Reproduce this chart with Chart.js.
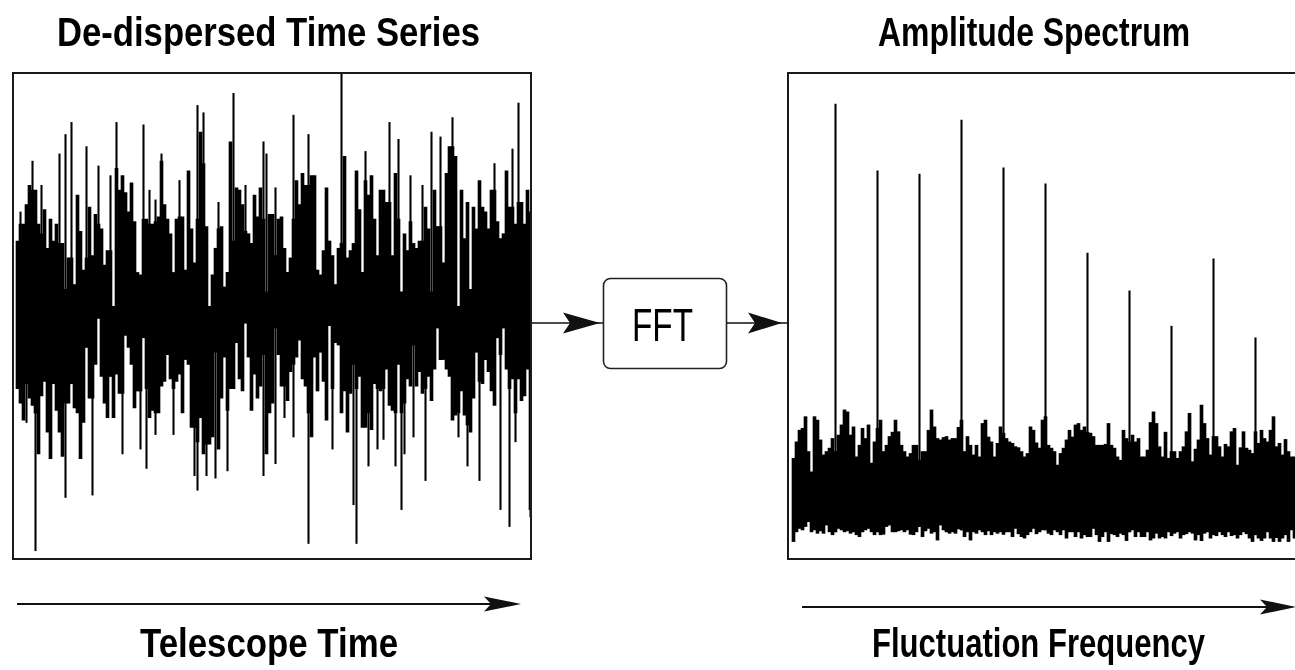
<!DOCTYPE html>
<html>
<head>
<meta charset="utf-8">
<title>De-dispersed Time Series / Amplitude Spectrum</title>
<script src="https://cdn.jsdelivr.net/npm/chart.js@4.4.1/dist/chart.umd.min.js"></script>
<style>
    html, body {
        margin: 0;
        padding: 0;
        width: 1295px;
        height: 670px;
        overflow: hidden;
        background: #ffffff;
    }
    canvas {
        position: absolute;
    }
    #decor {
        position: absolute;
        left: 0;
        top: 0;
    }
    .lbl {
        position: absolute;
        white-space: nowrap;
        color: #000000;
        font-family: "Liberation Sans Narrow", "Arial Narrow", "Liberation Sans", Arial, sans-serif;
        transform-origin: 0 0;
    }
    .title, .axis {
        font-size: 40px;
        line-height: 40px;
        font-weight: bold;
    }
    .fft {
        font-size: 47px;
        line-height: 47px;
        font-weight: normal;
    }
</style>
</head>
<body>

<canvas id="timeChart" width="545" height="510" style="left:0px; top:60px;"></canvas>
<canvas id="specChart" width="540" height="510" style="left:775px; top:60px;"></canvas>

<svg id="decor" width="1295" height="670">
    <!-- time series -> FFT -> spectrum -->
    <line x1="532" y1="323" x2="604" y2="323" stroke="#111" stroke-width="1.6"/>
    <path d="M600 323 L563 312.5 L570 323 L563 333.5 Z" fill="#111"/>
    <rect x="603.5" y="278.5" width="123" height="90" rx="7" ry="7" fill="#fff" stroke="#222" stroke-width="1.6"/>
    <line x1="727" y1="323" x2="787" y2="323" stroke="#111" stroke-width="1.6"/>
    <path d="M782 323 L748 312.5 L755 323 L748 333.5 Z" fill="#111"/>
    <!-- axis arrows -->
    <line x1="17" y1="604" x2="500" y2="604" stroke="#111" stroke-width="2"/>
    <path d="M521 604 L484 596.5 L491 604 L484 611.5 Z" fill="#111"/>
    <line x1="802" y1="607" x2="1275" y2="607" stroke="#111" stroke-width="2"/>
    <path d="M1296 607 L1260 599.5 L1267 607 L1260 614.5 Z" fill="#111"/>
</svg>

<div class="lbl title" data-w="423" style="left:57px; top:12px;">De-dispersed Time Series</div>
<div class="lbl title" data-w="312" style="left:878px; top:12px;">Amplitude Spectrum</div>
<div class="lbl fft" data-w="61" style="left:632px; top:301px;">FFT</div>
<div class="lbl axis" data-w="258" style="left:140px; top:623px;">Telescope Time</div>
<div class="lbl axis" data-w="333" style="left:872px; top:623px;">Fluctuation Frequency</div>

<script>
// ==========================================
// DATA
// ==========================================

// De-dispersed time series: envelope of each time bin (arbitrary units)
const timeHigh = [
    31, 38, 38, 46, 54, 52, 52, 38, 34, 44, 28, 40, 31, 38, 30, 30, 11, 24, 24, 13,
    50, 35, 19, 24, 45, 25, 42, 38, 36, 21, 27, 27, 4, 61, 52, 58, 51, 43, 55, 39,
    18, 17, 40, 40, 38, 38, 39, 41, 64, 46, 40, 34, 18, 40, 41, 41, 19, 60, 36, 22,
    40, 76, 63, 37, 4, 17, 28, 36, 37, 12, 18, 72, 31, 53, 52, 46, 35, 34, 30, 50,
    41, 53, 40, 10, 42, 42, 25, 40, 41, 28, 18, 24, 40, 56, 46, 59, 54, 54, 58, 58,
    19, 17, 27, 53, 31, 25, 13, 28, 30, 66, 24, 27, 30, 60, 44, 18, 56, 50, 58, 40,
    25, 52, 52, 47, 47, 25, 59, 40, 10, 34, 27, 39, 30, 28, 31, 31, 45, 36, 10, 52,
    37, 37, 22, 59, 70, 70, 66, 4, 52, 32, 47, 11, 45, 36, 56, 45, 43, 36, 52, 52,
    39, 32, 34, 60, 45, 45, 38, 47, 47, 38, 52, 43
];
const timeLow = [
    -30, -36, -43, -28, -34, -37, -40, -57, -33, -27, -48, -59, -28, -39, -48, -58, -36, -36, -28, -38,
    -40, -59, -44, -13, -34, -34, -20, -1, -25, -36, -42, -25, -42, -24, -32, -32, -8, -13, -20, -38,
    -31, -31, -9, -30, -42, -39, -40, -40, -29, -27, -16, -26, -30, -27, -24, -40, -18, -20, -46, -46,
    -52, -42, -57, -53, -53, -50, -15, -55, -34, -17, -39, -30, -30, -11, -26, -31, -3, -17, -39, -24,
    -34, -29, -16, -57, -40, -36, -5, -16, -29, -29, -35, -23, -20, -17, -10, -26, -29, -40, -50, -17,
    -31, -15, -27, -43, -4, -30, -11, -12, -40, -31, -48, -32, -20, -30, -25, -46, -46, -40, -47, -28,
    -30, -31, -30, -22, -37, -39, -40, -20, -40, -36, -26, -29, -12, -29, -23, -32, -30, -25, -35, -22,
    -5, -18, -18, -22, -25, -43, -41, -40, -31, -41, -45, -48, -34, -15, -27, -28, -18, -23, -31, -37,
    -9, -16, -5, -22, -30, -26, -40, -26, -35, -33, -22, -80
];

// Single-sample spikes sticking out of the envelope
const upSpikeBins = [1, 5, 8, 14, 16, 18, 23, 27, 31, 33, 42, 44, 46, 48, 54, 60, 62, 67, 72, 76,
    82, 83, 86, 92, 97, 108, 116, 124, 127, 131, 135, 138, 141, 145, 159, 165, 167];
const upSpikeValues = [43, 64, 54, 67, 75, 80, 70, 62, 58, 80, 79, 52, 48, 67, 56, 87, 84, 47, 92, 54,
    72, 67, 53, 83, 75, 100, 68, 80, 73, 58, 54, 76, 74, 82, 63, 69, 88];
const downSpikeBins = [3, 6, 16, 25, 35, 41, 43, 46, 52, 59, 60, 63, 66, 70, 82, 86, 89, 92, 97, 105,
    112, 113, 117, 120, 122, 126, 128, 129, 132, 136, 147, 150, 154, 161, 164, 166, 171];
const downSpikeValues = [-44, -97, -75, -74, -57, -55, -63, -49, -49, -66, -72, -66, -67, -64, -66, -61, -42, -50, -94, -55,
    -78, -94, -62, -55, -51, -62, -80, -57, -50, -68, -50, -62, -68, -80, -87, -52, -83];

// Amplitude spectrum: noise floor envelope of each frequency bin
const specHigh = [
    20.6, 24.0, 26.4, 26.8, 29.2, 22.0, 17.8, 29.2, 28.5, 24.4, 21.3, 22.0, 22.7, 24.7, 22.0, 25.4, 27.5, 30.6, 30.2, 25.4,
    27.1, 20.9, 23.3, 26.8, 24.7, 27.5, 19.6, 24.0, 26.8, 28.5, 22.0, 23.3, 25.1, 26.0, 28.5, 26.1, 23.3, 22.0, 20.9, 21.6,
    23.3, 23.3, 20.2, 22.0, 22.0, 26.4, 30.6, 27.1, 24.7, 24.4, 24.9, 25.1, 24.4, 24.7, 24.7, 27.0, 28.5, 22.0, 25.1, 23.3,
    21.3, 23.3, 20.9, 27.8, 28.5, 25.0, 24.0, 20.9, 23.7, 27.1, 25.8, 24.7, 24.0, 23.7, 23.0, 22.8, 22.0, 20.9, 21.6, 27.1,
    26.4, 23.8, 22.7, 28.5, 29.2, 23.3, 22.7, 22.0, 19.2, 21.6, 22.7, 24.4, 26.4, 25.0, 27.5, 27.8, 26.4, 27.1, 26.0, 25.8,
    25.1, 23.3, 23.3, 23.3, 23.5, 27.8, 23.3, 22.7, 20.9, 20.2, 26.4, 24.7, 24.0, 25.4, 24.0, 24.7, 20.9, 20.9, 22.3, 28.0,
    30.2, 27.8, 23.0, 20.9, 26.0, 20.6, 22.0, 22.0, 20.6, 22.0, 23.0, 26.1, 29.9, 19.9, 22.5, 24.4, 31.6, 27.8, 24.7, 21.3,
    25.1, 25.1, 23.0, 20.9, 23.5, 23.0, 26.1, 26.8, 19.2, 22.8, 26.1, 22.7, 22.3, 21.6, 26.1, 23.7, 26.4, 24.7, 24.0, 26.4,
    29.2, 23.0, 23.7, 21.3, 24.5, 22.0, 20.9, 20.9, 21.6, 23.3, 22.0, 21.0, 22.0
];
const specLow = [
    3.4, 5.4, 6.1, 5.8, 6.5, 7.5, 5.4, 5.8, 5.1, 5.6, 5.1, 6.8, 5.4, 4.8, 5.4, 6.1, 5.8, 5.4, 5.6, 5.1,
    5.4, 4.8, 4.4, 5.4, 5.8, 6.1, 5.4, 4.8, 5.4, 4.8, 4.9, 6.5, 6.8, 5.4, 5.4, 5.6, 5.8, 5.4, 5.8, 4.9,
    4.8, 5.4, 6.5, 4.4, 5.6, 6.1, 5.1, 5.4, 3.7, 6.8, 5.8, 5.4, 5.1, 5.4, 5.1, 6.0, 5.8, 4.4, 5.4, 3.7,
    5.4, 5.1, 5.8, 5.4, 4.8, 5.6, 4.8, 5.4, 5.1, 5.4, 4.9, 5.4, 5.4, 4.4, 6.1, 5.0, 4.4, 4.1, 4.8, 5.4,
    6.1, 5.0, 5.4, 5.8, 5.8, 5.1, 4.8, 5.8, 5.4, 4.8, 5.8, 4.1, 5.4, 5.4, 4.4, 5.4, 4.1, 4.8, 4.4, 4.4,
    6.1, 4.8, 3.4, 4.4, 5.4, 3.4, 5.0, 4.8, 4.4, 5.1, 4.8, 3.6, 5.4, 5.8, 4.4, 5.4, 4.4, 4.4, 5.4, 3.7,
    4.1, 5.1, 4.1, 4.4, 4.1, 5.4, 4.6, 5.1, 5.4, 4.1, 4.8, 5.0, 5.4, 5.1, 3.7, 4.8, 3.6, 5.1, 5.4, 4.1,
    4.8, 4.6, 5.4, 4.8, 4.4, 5.4, 4.6, 4.8, 4.1, 4.8, 5.4, 5.0, 4.1, 3.4, 4.8, 4.1, 3.6, 4.1, 5.4, 4.1,
    3.4, 4.2, 3.4, 4.1, 4.8, 3.4, 5.8, 4.1, 4.4, 4.8, 4.1, 4.4, 4.8
];

// Pulsar harmonics
const harmonicBins = [14, 28, 42, 56, 70, 84, 98, 112, 126, 140, 154];
const harmonicAmps = [93.8, 80.0, 79.3, 90.5, 80.6, 77.3, 63.0, 55.2, 47.9, 61.8, 45.5];

// ==========================================
// SHARED HELPERS
// ==========================================

const INK = '#000000';

const framePlugin = {
    id: 'frame',
    afterDraw(chart) {
        const { ctx, chartArea: a } = chart;
        ctx.save();
        ctx.strokeStyle = '#1a1a1a';
        ctx.lineWidth = 2;
        ctx.strokeRect(a.left - 1, a.top - 1, a.right - a.left + 2, a.bottom - a.top + 2);
        ctx.restore();
    }
};

const bodyDataset = (data) => ({
    data,
    backgroundColor: INK,
    borderWidth: 0,
    barPercentage: 1,
    categoryPercentage: 1,
    grouped: false
});

const spikeDataset = (data) => ({
    data,
    backgroundColor: INK,
    borderWidth: 0,
    barThickness: 1.4,
    grouped: false
});

const baseOptions = (xMin, xMax, yMin, yMax, padding) => ({
    responsive: false,
    animation: false,
    events: [],
    layout: { padding },
    plugins: {
        legend: { display: false },
        tooltip: { enabled: false },
        title: { display: false }
    },
    scales: {
        x: { type: 'linear', min: xMin, max: xMax, offset: false, display: false },
        y: { min: yMin, max: yMax, display: false }
    }
});

// ==========================================
// TIME SERIES CHART
// ==========================================

const timeBody = timeHigh.map((hi, i) => ({ x: i, y: [timeLow[i], hi] }));
const timeUp = upSpikeBins.map((b, i) => ({ x: b, y: [0, upSpikeValues[i]] }));
const timeDown = downSpikeBins.map((b, i) => ({ x: b, y: [downSpikeValues[i], 0] }));

new Chart(document.getElementById('timeChart'), {
    type: 'bar',
    data: {
        datasets: [bodyDataset(timeBody), spikeDataset(timeUp), spikeDataset(timeDown)]
    },
    // chart area 14..530 px wide -> 3 px per time bin
    options: baseOptions(-3.5 / 3, -3.5 / 3 + 172, -100, 100, { left: 14, right: 15, top: 14, bottom: 12 }),
    plugins: [framePlugin]
});

// ==========================================
// SPECTRUM CHART
// ==========================================

const specBody = specHigh.map((hi, i) => ({ x: i, y: [specLow[i], hi] }));
const specPeaks = harmonicBins.map((b, i) => ({ x: b, y: [specLow[b], harmonicAmps[i]] }));

new Chart(document.getElementById('specChart'), {
    type: 'bar',
    data: {
        datasets: [bodyDataset(specBody), spikeDataset(specPeaks)]
    },
    // chart area 789..1310 px -> 3 px per frequency bin
    options: baseOptions(-1.5, -1.5 + 521 / 3, 0, 100, { left: 14, right: 5, top: 14, bottom: 12 }),
    plugins: [framePlugin]
});

// ==========================================
// LABEL FITTING (condensed lettering)
// ==========================================

document.querySelectorAll('.lbl').forEach(el => {
    const natural = el.getBoundingClientRect().width;
    const target = parseFloat(el.dataset.w);
    if (natural > 0) {
        el.style.transform = `scaleX(${target / natural})`;
    }
});
</script>
</body>
</html>
